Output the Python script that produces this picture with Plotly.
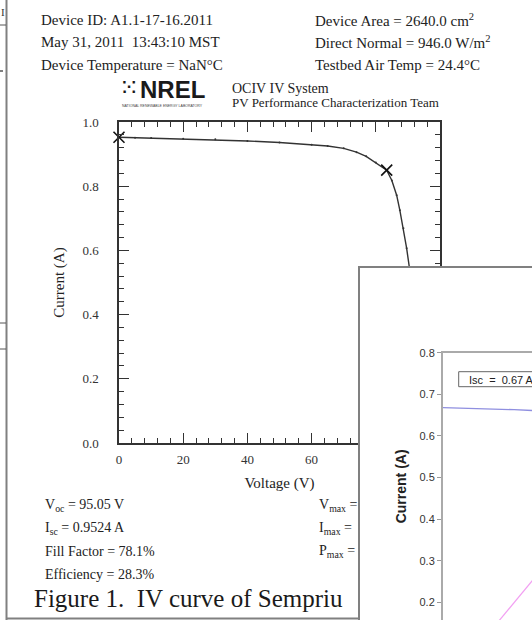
import plotly.graph_objects as go

W, H = 532, 620

# ---- data ----
voltage = [0, 5, 10, 20, 30, 40, 50, 60, 65, 70, 74, 77, 80, 83.4, 85, 86.5,
           87.5, 88.6, 89.6, 90.5, 91.5, 92.5, 93.5, 94.3, 95.05]
current = [0.9524, 0.951, 0.950, 0.948, 0.946, 0.941, 0.936, 0.929, 0.925, 0.918,
           0.906, 0.893, 0.874, 0.850, 0.818, 0.772, 0.725, 0.669, 0.607, 0.544,
           0.45, 0.35, 0.23, 0.12, 0.0]
key_v = [0, 83.4]          # Isc point, max power point
key_i = [0.9524, 0.850]

inset_x_blue = [0, 2, 4, 6, 8, 10]
inset_y_blue = [0.668, 0.667, 0.666, 0.665, 0.663, 0.661]
inset_x_pink = [6.0, 10.5]
inset_y_pink = [0.148, 0.264]

x_ticks = [0, 20, 40, 60, 80, 100]
y_ticks = [0.0, 0.2, 0.4, 0.6, 0.8, 1.0]

header_left = ["Device ID: A1.1-17-16.2011",
               "May 31, 2011\u00a0\u00a013:43:10 MST",
               "Device Temperature = NaN°C"]
header_right = ["Device Area = 2640.0 cm<sup>2</sup>",
                "Direct Normal = 946.0 W/m<sup>2</sup>",
                "Testbed Air Temp = 24.4°C"]
stats_left = ["V<sub>oc</sub> = 95.05 V", "I<sub>sc</sub> = 0.9524 A",
              "Fill Factor = 78.1%", "Efficiency = 28.3%"]
stats_right = ["V<sub>max</sub> =", "I<sub>max</sub> =", "P<sub>max</sub> ="]


def px(x):
    return x / W


def py(y):
    return 1 - y / H


SERIF = "Liberation Serif"
SANS = "Liberation Sans"
INK = "#222222"

fig = go.Figure()

# main IV curve
fig.add_trace(go.Scatter(x=voltage, y=current, mode="lines+markers",
                         line=dict(color="#333333", width=1.4),
                         marker=dict(size=2, color="#333333"),
                         xaxis="x", yaxis="y", hoverinfo="skip"))
fig.add_trace(go.Scatter(x=key_v, y=key_i, mode="markers", cliponaxis=False,
                         marker=dict(symbol="x-thin-open", size=11, color="#111111",
                                     line=dict(color="#111111", width=1.6)),
                         xaxis="x", yaxis="y", hoverinfo="skip"))

# overlapping second window: inset curves
fig.add_trace(go.Scatter(x=inset_x_blue, y=inset_y_blue, mode="lines",
                         line=dict(color="#8f8fe0", width=1.3),
                         xaxis="x3", yaxis="y3", hoverinfo="skip"))
fig.add_trace(go.Scatter(x=inset_x_pink, y=inset_y_pink, mode="lines",
                         line=dict(color="#f2a0f2", width=1.2),
                         xaxis="x3", yaxis="y3", hoverinfo="skip"))

main_tick_font = dict(family=SERIF, size=13, color="#333333")

fig.update_layout(
    width=W, height=H, margin=dict(l=0, r=0, t=0, b=0),
    paper_bgcolor="white", plot_bgcolor="white", showlegend=False,
    xaxis=dict(domain=[px(119), px(440)], range=[0, 100], tickvals=x_ticks,
               ticks="inside", ticklen=10, tickwidth=1, tickcolor="#333333",
               minor=dict(ticks="inside", ticklen=5, dtick=4, tickcolor="#333333",
                          tickwidth=1, showgrid=False),
               showline=True, linecolor="#333333", linewidth=1.5,
               mirror="allticks", showgrid=False, zeroline=False,
               tickfont=main_tick_font, ticklabelstandoff=4, automargin=False,
               title=dict(text="Voltage (V)", font=dict(family=SERIF, size=15, color=INK),
                          standoff=11),
               anchor="y"),
    yaxis=dict(domain=[py(443), py(122)], range=[0, 1.0], tickvals=y_ticks,
               tickformat=".1f",
               ticks="inside", ticklen=10, tickwidth=1, tickcolor="#333333",
               minor=dict(ticks="inside", ticklen=5, dtick=0.04, tickcolor="#333333",
                          tickwidth=1, showgrid=False),
               showline=True, linecolor="#333333", linewidth=1.5,
               mirror="allticks", showgrid=False, zeroline=False,
               tickfont=main_tick_font, ticklabelstandoff=16, automargin=False,
               title=dict(text="Current (A)", font=dict(family=SERIF, size=15, color=INK),
                          standoff=14),
               anchor="x"),
    # window frame of the overlapping screenshot
    xaxis2=dict(domain=[px(360), 1], range=[0, 1], side="top", showline=True,
                linecolor="#808080", linewidth=2, showticklabels=False, ticks="",
                showgrid=False, zeroline=False, anchor="y2", automargin=False),
    yaxis2=dict(domain=[0, py(268)], range=[0, 1], showline=True,
                linecolor="#808080", linewidth=2, showticklabels=False, ticks="",
                showgrid=False, zeroline=False, anchor="x2", automargin=False),
    # inset plot inside that window
    xaxis3=dict(domain=[px(443), 1], range=[0, 10], side="top", showline=True,
                linecolor="#aaaaaa", linewidth=2, showticklabels=False, ticks="",
                showgrid=False, zeroline=False, anchor="y3", automargin=False),
    yaxis3=dict(domain=[0, py(352.7)], range=[0.8 - 267.3 / 416, 0.8], dtick=0.1,
                tick0=0, tickformat=".1f", ticks="outside", ticklen=4,
                tickcolor="#999999", showline=True, linecolor="#aaaaaa", linewidth=2,
                showgrid=False, zeroline=False, anchor="x3", automargin=False,
                tickfont=dict(family=SANS, size=11, color="#333333"),
                title=dict(text="<b>Current (A)</b>",
                           font=dict(family=SANS, size=14, color=INK), standoff=10)),
)

shapes = [
    # white body of the overlapping window, drawn in its own subplot layer
    dict(type="rect", xref="x2", yref="y2", x0=-1, x1=2, y0=-1, y1=2,
         fillcolor="white", line=dict(width=0), layer="below"),
    # main window border
    dict(type="line", xref="paper", yref="paper", x0=px(6.5), x1=px(6.5),
         y0=0, y1=1, line=dict(color="#808080", width=2), layer="above"),
    dict(type="line", xref="paper", yref="paper", x0=px(6), x1=px(360),
         y0=py(618.5), y1=py(618.5), line=dict(color="#808080", width=2),
         layer="above"),
    # Isc box in the inset
    dict(type="rect", xref="paper", yref="paper", x0=px(458.7), x1=px(545),
         y0=py(386.7), y1=py(371.7), fillcolor="white",
         line=dict(color="#666666", width=1), layer="above"),
]
# bits of the window behind, at the far left
for yy in [25, 323, 349]:
    shapes.append(dict(type="line", xref="paper", yref="paper", x0=0, x1=px(6),
                       y0=py(yy), y1=py(yy), line=dict(color="#555555", width=1),
                       layer="above"))
shapes.append(dict(type="line", xref="paper", yref="paper", x0=0, x1=px(3),
                   y0=py(71), y1=py(71), line=dict(color="#555555", width=1.5),
                   layer="above"))
fig.update_layout(shapes=shapes)

ann = []


def text(t, x, y, size, family=SERIF, color=INK, xanchor="left"):
    ann.append(dict(text=t, x=px(x), y=py(y), xref="paper", yref="paper",
                    xanchor=xanchor, yanchor="middle", showarrow=False,
                    font=dict(family=family, size=size, color=color)))


for i, t in enumerate(header_left):
    text(t, 39, 20 + 22.3 * i, 15)
for i, t in enumerate(header_right):
    text(t, 313, 20 + 22.3 * i, 15)

# NREL logo block
text("⁙", 129, 88.5, 24, family="DejaVu Sans", color="#1a1a1a", xanchor="center")
text("<b>NREL</b>", 138, 89.5, 24, family=SANS, color="#1a1a1a")
text("NATIONAL RENEWABLE ENERGY LABORATORY", 120, 106, 3.5, family=SANS,
     color="#444444")
text("OCIV IV System", 230, 88, 14)
text("PV Performance Characterization Team", 230, 102, 13)

for i, t in enumerate(stats_left):
    text(t, 43, 505 + 23.3 * i, 14)
for i, t in enumerate(stats_right):
    text(t, 317, 505 + 23.3 * i, 14)

text("Figure 1.\u00a0\u00a0IV curve of Sempriu", 32, 598, 25, color="#1a1a1a")
text("I", -1, 12, 11, color="#333333")

# inset label
text("Isc\u00a0\u00a0=\u00a0\u00a00.67 A", 467, 379.5, 11, family=SANS, color=INK)

fig.update_layout(annotations=ann)

fig.write_html("out.html")
